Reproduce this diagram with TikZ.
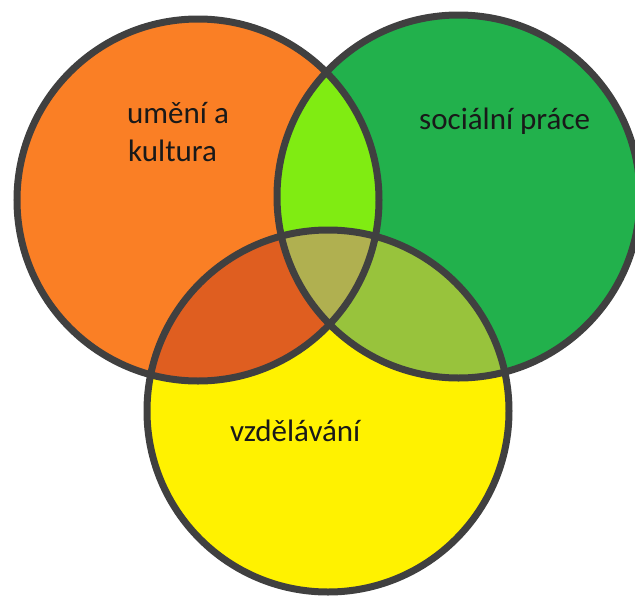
\documentclass[tikz,border=0pt]{standalone}
\usepackage{fontspec}
\setmainfont{Carlito}
\definecolor{orangeA}{HTML}{FA7F25}
\definecolor{greenA}{HTML}{22B14C}
\definecolor{yellowA}{HTML}{FFF200}
\definecolor{limeA}{HTML}{80EC12}
\definecolor{rustA}{HTML}{DF5E20}
\definecolor{oliveA}{HTML}{98C33C}
\definecolor{khakiA}{HTML}{B0B050}
\definecolor{ringgray}{HTML}{404040}
\begin{document}
\begin{tikzpicture}[x=1pt,y=-1pt,
  ring/.style={draw=ringgray,line width=7pt},
  lbl/.style={font=\fontsize{31}{40}\selectfont,anchor=base west,inner sep=0pt,text=black!90}]
\useasboundingbox (0,0) rectangle (635,595);
\coordinate (co) at (198,200);
\coordinate (cg) at (458.5,196.5);
\coordinate (cy) at (328,411);
\fill[orangeA] (co) circle[radius=181];
\fill[greenA] (cg) circle[radius=181.5];
\fill[yellowA] (cy) circle[radius=181];
\begin{scope}
  \clip (co) circle[radius=181];
  \fill[limeA] (cg) circle[radius=181.5];
  \fill[rustA] (cy) circle[radius=181];
\end{scope}
\begin{scope}
  \clip (cg) circle[radius=181.5];
  \fill[oliveA] (cy) circle[radius=181];
  \clip (co) circle[radius=181];
  \fill[khakiA] (cy) circle[radius=181];
\end{scope}
\draw[ring] (co) circle[radius=181];
\draw[ring] (cg) circle[radius=181.5];
\draw[ring] (cy) circle[radius=181];
\node[lbl] (t1) at (127,123) {umění a};
\node[lbl] (t2) at (128,161) {kultura};
\node[lbl] (t3) at (419,129) {sociální práce};
\node[lbl] (t4) at (230,441) {vzdělávání};
\end{tikzpicture}
\end{document}
